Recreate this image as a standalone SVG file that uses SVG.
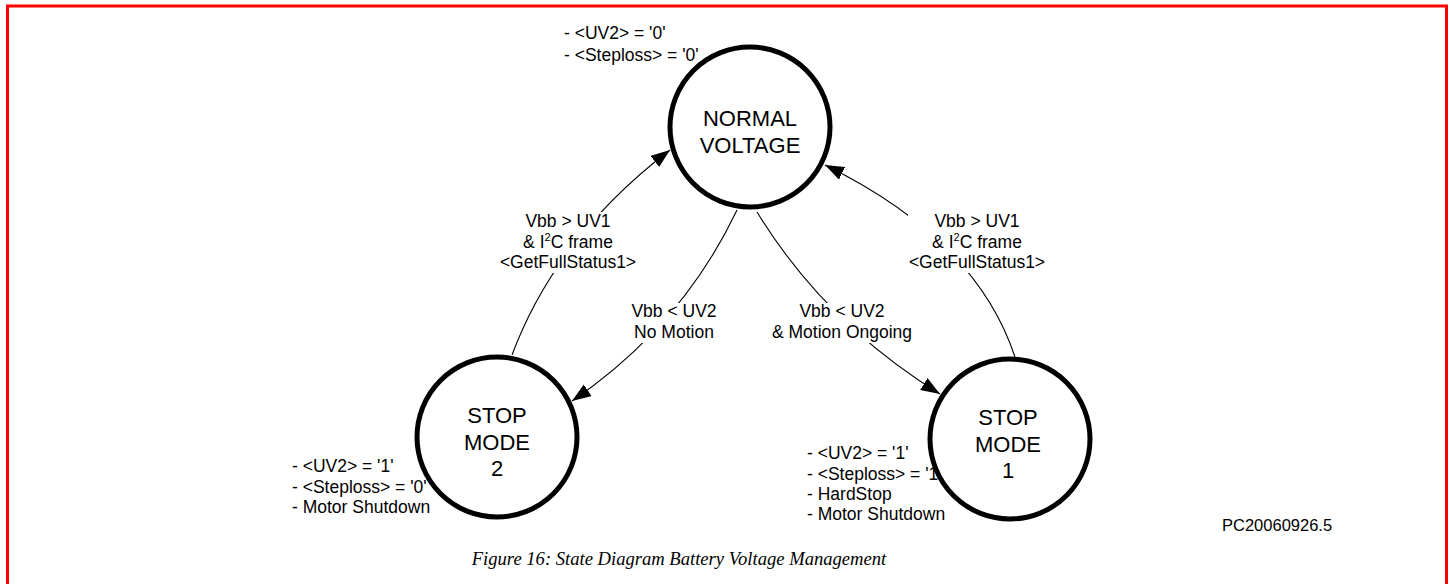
<svg xmlns="http://www.w3.org/2000/svg" width="1450" height="584" viewBox="0 0 1450 584">
<style>
.t{font-family:"Liberation Sans",Arial,sans-serif;font-size:17.5px;fill:#000}
.st{font-family:"Liberation Sans",Arial,sans-serif;font-size:22px;fill:#000;text-anchor:middle}
.c{text-anchor:middle}
.sup{font-size:11px}
.node{fill:#fff;stroke:#000;stroke-width:5}
.edge{fill:none;stroke:#000;stroke-width:1.1}
.bg{fill:#fff;stroke:none}
</style>
<defs>
<marker id="arr" markerUnits="userSpaceOnUse" markerWidth="21" markerHeight="15" refX="19" refY="7" orient="auto">
<path d="M0,0 L19,7 L0,14 Z" fill="#000"/>
</marker>
</defs>
<rect x="7.5" y="6" width="1439" height="620" fill="#fff" stroke="#f00" stroke-width="3"/>

<g id="connectors">
<path class="edge" d="M512,355 Q556,237 670,150" marker-end="url(#arr)"/>
<path class="edge" d="M737,210 Q682,326 572,401" marker-end="url(#arr)"/>
<path class="edge" d="M757,212 Q825,323 940,394" marker-end="url(#arr)"/>
<path class="edge" d="M1015,357 Q976,239 825,165" marker-end="url(#arr)"/>
<g id="lbl-sm2-nv">
<rect class="bg" x="499" y="212" width="138" height="61"/>
<text class="t c" x="568" y="227">Vbb &gt; UV1</text>
<text class="t c" x="568" y="248">&amp; I<tspan class="sup" dy="-7">2</tspan><tspan dy="7">C frame</tspan></text>
<text class="t c" x="568" y="268">&lt;GetFullStatus1&gt;</text>
</g>
<g id="lbl-nv-sm2">
<rect class="bg" x="628" y="303" width="92" height="40"/>
<text class="t c" x="674" y="317">Vbb &lt; UV2</text>
<text class="t c" x="674" y="338">No Motion</text>
</g>
<g id="lbl-nv-sm1">
<rect class="bg" x="770" y="303" width="144" height="40"/>
<text class="t c" x="842" y="317">Vbb &lt; UV2</text>
<text class="t c" x="842" y="338">&amp; Motion Ongoing</text>
</g>
<g id="lbl-sm1-nv">
<rect class="bg" x="908" y="212" width="138" height="61"/>
<text class="t c" x="977" y="227">Vbb &gt; UV1</text>
<text class="t c" x="977" y="248">&amp; I<tspan class="sup" dy="-7">2</tspan><tspan dy="7">C frame</tspan></text>
<text class="t c" x="977" y="268">&lt;GetFullStatus1&gt;</text>
</g>
</g>

<g id="notes">
<text class="t" x="564" y="39">- &lt;UV2&gt; = '0'</text>
<text class="t" x="564" y="61">- &lt;Steploss&gt; = '0'</text>
<text class="t" x="292" y="472">- &lt;UV2&gt; = '1'</text>
<text class="t" x="292" y="493">- &lt;Steploss&gt; = '0'</text>
<text class="t" x="292" y="513">- Motor Shutdown</text>
<text class="t" x="807" y="459">- &lt;UV2&gt; = '1'</text>
<text class="t" x="807" y="480">- &lt;Steploss&gt; = '1'</text>
<text class="t" x="807" y="500">- HardStop</text>
<text class="t" x="807" y="520">- Motor Shutdown</text>
</g>

<g id="normal-voltage">
<circle class="node" cx="750" cy="127" r="80"/>
<text class="st" x="750" y="126">NORMAL</text>
<text class="st" x="750" y="153">VOLTAGE</text>
</g>
<g id="stop-mode-2">
<circle class="node" cx="497" cy="437" r="80"/>
<text class="st" x="497" y="423">STOP</text>
<text class="st" x="497" y="450">MODE</text>
<text class="st" x="497" y="476">2</text>
</g>
<g id="stop-mode-1">
<circle class="node" cx="1010" cy="439" r="80"/>
<text class="st" x="1008" y="425">STOP</text>
<text class="st" x="1008" y="452">MODE</text>
<text class="st" x="1008" y="478">1</text>
</g>

<text class="t" x="1222" y="531" style="font-size:16.5px">PC20060926.5</text>
<text x="679" y="565" text-anchor="middle" style="font-family:'Liberation Serif','Times New Roman',serif;font-style:italic;font-size:18.6px">Figure 16: State Diagram Battery Voltage Management</text>
</svg>
